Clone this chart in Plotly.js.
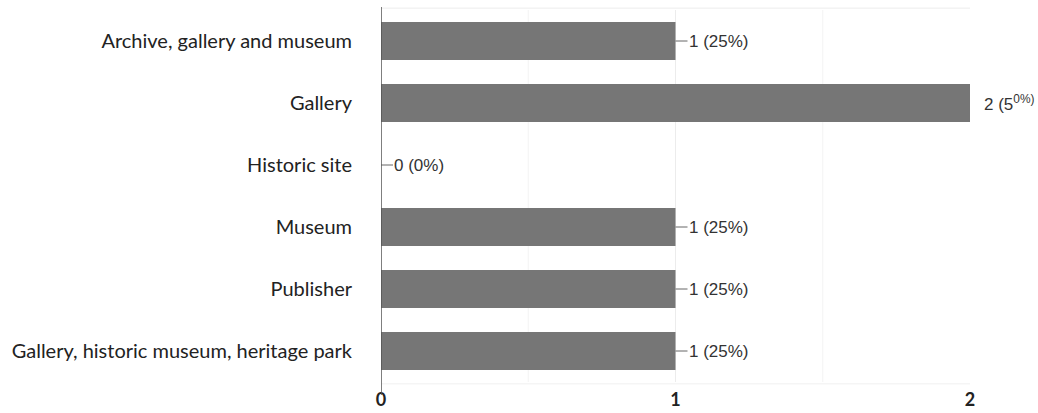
<!DOCTYPE html>
<html>
<head>
<meta charset="utf-8">
<script src="https://cdn.plot.ly/plotly-3.0.1.min.js"></script>
<style>
  html, body { margin: 0; padding: 0; background: #fff; }
  #chart { width: 1038px; height: 413px; }
</style>
</head>
<body>
<div id="chart"></div>
<script>
// Organisation types and how many respondents chose each
const categories = [
  "Archive, gallery and museum",
  "Gallery",
  "Historic site",
  "Museum",
  "Publisher",
  "Gallery, historic museum, heritage park"
];
const counts = [1, 2, 0, 1, 1, 1];
const valueLabels = ["1 (25%)", "2 (5<sup>0%)</sup>", "0 (0%)", "1 (25%)", "1 (25%)", "1 (25%)"];
const showLeader = [true, false, true, true, true, true];
const xTickVals = [0, 1, 2];
const xTickText = ["0", "1", "2"];

const barColor = "#767676";

const trace = {
  type: "bar",
  orientation: "h",
  y: categories,
  x: counts,
  marker: { color: barColor, line: { width: 0 } },
  hoverinfo: "x+y"
};

// Short leader line from the end of each bar to its value label
const leaders = categories.map((c, i) => showLeader[i] ? {
  type: "line",
  xref: "x", yref: "y",
  xsizemode: "pixel",
  xanchor: counts[i],
  x0: 0, x1: 12,
  y0: c, y1: c,
  line: { color: "#666", width: 1 }
} : null).filter(Boolean);

const annotations = categories.map((c, i) => ({
  x: counts[i],
  y: c,
  xref: "x", yref: "y",
  text: valueLabels[i],
  showarrow: false,
  xanchor: "left",
  yanchor: "middle",
  xshift: showLeader[i] ? 11 : 12,
  font: { family: "Liberation Sans, Arial, sans-serif", size: 17, color: "#333" }
}));

const layout = {
  width: 1038,
  height: 413,
  margin: { l: 381, r: 68, t: 10, b: 31, pad: 0 },
  paper_bgcolor: "#fff",
  plot_bgcolor: "#fff",
  bargap: 0.39,
  showlegend: false,
  xaxis: {
    range: [0, 2],
    tickvals: xTickVals,
    ticktext: xTickText,
    showgrid: true,
    gridcolor: "#ececec",
    gridwidth: 1,
    zeroline: false,
    showline: false,
    ticks: "",
    tickfont: { family: "Lato, sans-serif", size: 18, color: "#222", weight: 700 },
    ticklabelstandoff: 5,
    fixedrange: true
  },
  yaxis: {
    type: "category",
    autorange: "reversed",
    showgrid: false,
    zeroline: false,
    showline: false,
    ticks: "",
    tickfont: { family: "Lato, sans-serif", size: 20, color: "#222" },
    ticklabelstandoff: 28,
    fixedrange: true
  },
  shapes: leaders.concat([
    // faint top border of the plotting area
    { type: "line", xref: "paper", yref: "paper", x0: 0, x1: 1, y0: 1.005, y1: 1.005,
      line: { color: "#ececec", width: 1 } },
    // faint bottom edge of the plotting area
    { type: "line", xref: "paper", yref: "paper", x0: 0, x1: 1, y0: -0.005, y1: -0.005,
      line: { color: "#f0f0f0", width: 1 }, layer: "below" },
    // faint gridlines at the half-steps
    ...[0.5, 1.5].map(v => ({ type: "line", xref: "x", yref: "paper", x0: v, x1: v, y0: 0, y1: 1,
      line: { color: "#f3f3f3", width: 1 }, layer: "below" })),
    // category axis line, running a little past the plotting area
    { type: "line", xref: "x", yref: "paper", x0: 0, x1: 0, y0: -0.035, y1: 1.008,
      line: { color: "#555", width: 1.5 } }
  ]),
  annotations: annotations
};

Plotly.newPlot("chart", [trace], layout, { displayModeBar: false, staticPlot: true });
</script>
</body>
</html>
